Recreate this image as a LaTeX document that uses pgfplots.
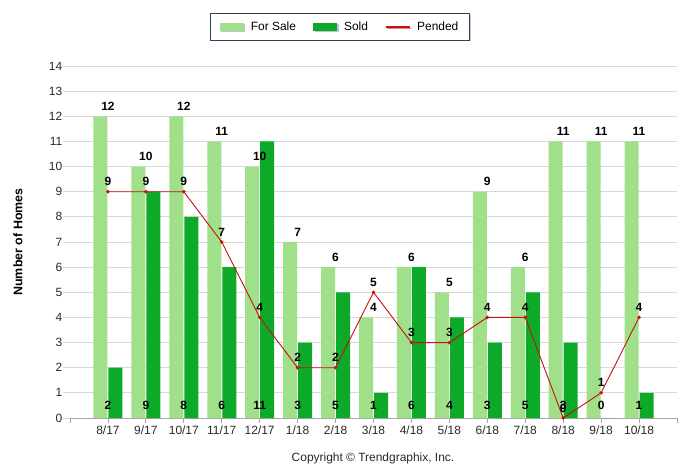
\documentclass[border=0pt]{standalone}
\usepackage{pgfplots}
\pgfplotsset{compat=1.18}
\usepackage{pgfplotstable}
\usepackage{fontspec}
\setmainfont{Liberation Sans}
\usetikzlibrary{shadows}

\definecolor{forsale}{RGB}{160,224,138}
\definecolor{sold}{RGB}{12,170,40}
\definecolor{pended}{RGB}{200,16,16}
\definecolor{gridgray}{RGB}{217,217,217}
\definecolor{legendedge}{RGB}{50,62,90}
\definecolor{labeltext}{RGB}{40,40,40}

% x = month index, 8/17 ... 10/18
\pgfplotstableread{
x  forsale sold pended
0  12      2    9
1  10      9    9
2  12      8    9
3  11      6    7
4  10      11   4
5  7       3    2
6  6       5    2
7  4       1    5
8  6       6    3
9  5       4    3
10 9       3    4
11 6       5    4
12 11      3    0
13 11      0    1
14 11      1    4
}\homes

\begin{document}
\begin{tikzpicture}
\path[use as bounding box] (0,0) rectangle (699bp,469bp);
\begin{axis}[
    at={(70bp,51bp)}, anchor=south west,
    width=607bp, height=352bp, scale only axis,
    xmin=-1, xmax=15, ymin=0, ymax=14,
    clip=false,
    axis x line*=bottom, axis y line*=left,
    y axis line style={draw=none},
    x axis line style={draw=gray!70, line width=0.8bp},
    xtick={0,...,14},
    xticklabels={8/17,9/17,10/17,11/17,12/17,1/18,2/18,3/18,4/18,5/18,6/18,7/18,8/18,9/18,10/18},
    extra x ticks={-1,15}, extra x tick labels={},
    extra x tick style={grid=none},
    ytick={0,...,14},
    ymajorgrids, grid style={gridgray, line width=0.9bp},
    tick align=outside,
    xtick style={draw=gray!70, line width=0.8bp},
    ytick style={draw=gridgray, line width=0.9bp},
    x tick style={/pgfplots/major tick length=5bp},
    y tick style={/pgfplots/major tick length=7bp},
    tick label style={font=\fontsize{12}{14}\selectfont, text=labeltext},
    /pgf/number format/assume math mode=true,
    ylabel={\bfseries Number of Homes},
    every axis y label/.style={at={(rel axis cs:0,0.5)}, xshift=-52bp, rotate=90, anchor=center, font=\fontsize{12.5}{14}\selectfont},
    legend columns=3,
    legend style={at={(0.445,1.111)}, anchor=center, draw=legendedge, line width=0.8bp,
        fill=white, drop shadow={shadow xshift=1.5bp, shadow yshift=-1.5bp, fill=legendedge!60},
        font=\fontsize{12}{14}\selectfont, inner xsep=9bp, inner ysep=6bp,
        /tikz/every odd column/.append style={column sep=5bp},
        /tikz/every even column/.append style={column sep=15bp}},
]
\addplot[ybar, bar width=14bp, bar shift=-7.5bp, fill=forsale, draw=none,
    legend image code/.code={\fill[forsale] (0bp,-4bp) rectangle (24bp,4bp);},
    nodes near coords,
    every node near coord/.append style={font=\bfseries\fontsize{12}{14}\selectfont, text=black, anchor=center, yshift=10bp}]
    table[x=x, y=forsale]{\homes};
\addlegendentry{For Sale}
\addplot[ybar, bar width=14bp, bar shift=7.5bp, fill=sold, draw=none,
    legend image code/.code={\fill[sold] (0bp,-4bp) rectangle (24bp,4bp);}]
    table[x=x, y=sold]{\homes};
\addlegendentry{Sold}
\addplot[pended, line width=0.9bp, mark=*, mark size=1.3bp,
    legend image code/.code={\draw[pended, line width=1.2bp] (0bp,0bp) -- (24bp,0bp);},
    nodes near coords,
    every node near coord/.append style={font=\bfseries\fontsize{12}{14}\selectfont, text=black, anchor=center, yshift=10bp}]
    table[x=x, y=pended]{\homes};
\addlegendentry{Pended}
% Sold values written at the foot of each month
\addplot[draw=none, forget plot, nodes near coords, point meta=explicit,
    every node near coord/.append style={font=\bfseries\fontsize{12}{14}\selectfont, text=black, anchor=center, yshift=13bp}]
    table[x=x, y expr=0, meta=sold]{\homes};
\end{axis}
\node[font=\fontsize{12}{14}\selectfont, text=labeltext] at (373bp,11bp) {Copyright © Trendgraphix, Inc.};
\end{tikzpicture}
\end{document}
